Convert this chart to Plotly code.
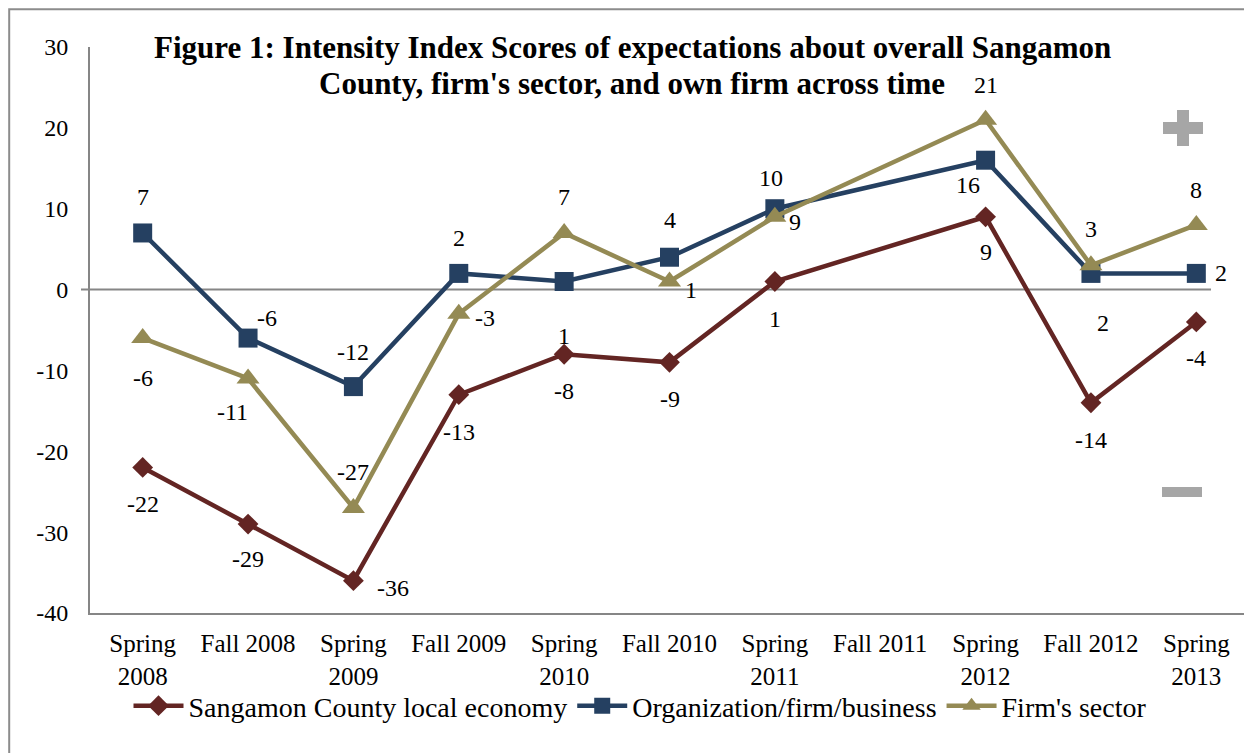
import plotly.graph_objects as go

categories = ["Spring<br>2008", "Fall 2008", "Spring<br>2009", "Fall 2009", "Spring<br>2010",
              "Fall 2010", "Spring<br>2011", "Fall 2011", "Spring<br>2012", "Fall 2012", "Spring<br>2013"]

sangamon = [-22, -29, -36, -13, -8, -9, 1, None, 9, -14, -4]
organization = [7, -6, -12, 2, 1, 4, 10, None, 16, 2, 2]
sector = [-6, -11, -27, -3, 7, 1, 9, None, 21, 3, 8]

series_names = ["Sangamon County local economy", "Organization/firm/business", "Firm's sector"]
tick_values = [-40, -30, -20, -10, 0, 10, 20, 30]
tick_labels = ["-40", "-30", "-20", "-10", "0", "10", "20", "30"]
title_lines = ["Figure 1: Intensity Index Scores of expectations about overall Sangamon",
               "County, firm's sector, and own firm across time"]

# style: label offsets in pixels (dx, dy) per point
sang_off = [(0, -37), (0, -35), (40, -7), (0, -37), (0, -37), (0, -37), (0, -38), None, (0, -35), (0, -37), (0, -36)]
org_off = [(0, 36), (19, 20), (0, 35), (0, 35), (0, -55), (0, 37), (-4, 31), None, (-18, -25), (12, -50), (25, 0)]
sec_off = [(0, -40), (-16, -33), (0, 36), (26, -4), (0, 36), (21, -9), (20, -5), None, (0, 35), (0, 36), (0, 35)]

colors = ["#632523", "#254061", "#948A54"]
symbols = ["diamond", "square", "triangle-up"]
sizes = [16, 19, 20]
FONT = "Liberation Serif"

# page body has an 8px margin; compensate so reference pixel p maps to figure pixel p-8
OFF = 8
W, H = 1252 - OFF, 753 - OFF
L, T, R = 90 - OFF, 47 - OFF, 3
B = H - (613 - OFF)
pw = W - L - R
ph = H - T - B


def px(xp):
    return (xp - OFF - L) / pw


def py(yp):
    return (H - B - (yp - OFF)) / ph


fig = go.Figure()
annotations = []
for vals, name, col, sym, sz, offs in zip([sangamon, organization, sector], series_names, colors,
                                          symbols, sizes, [sang_off, org_off, sec_off]):
    fig.add_trace(go.Scatter(
        x=categories, y=vals, name=name, mode="lines+markers", connectgaps=True,
        line=dict(color=col, width=4.5),
        marker=dict(symbol=sym, size=sz, color=col, line=dict(width=0)),
    ))
    for c, v, o in zip(categories, vals, offs):
        if v is None:
            continue
        annotations.append(dict(x=c, y=v, xref="x", yref="y", text=str(v), showarrow=False,
                                xshift=o[0], yshift=o[1],
                                font=dict(family=FONT, size=24, color="#000000")))

for line_text, ypix in zip(title_lines, [47, 83]):
    annotations.append(dict(
        x=px(632), y=py(ypix), xref="paper", yref="paper", showarrow=False,
        text="<b>" + line_text + "</b>",
        font=dict(family=FONT, size=31, color="#000000"), xanchor="center", yanchor="middle"))

shapes = [
    # outer frame
    dict(type="rect", xref="paper", yref="paper", x0=px(9.2), x1=px(1262), y0=py(765), y1=py(9.2),
         line=dict(color="#8C8C8C", width=2), layer="below"),
    # zero line
    dict(type="line", xref="paper", yref="y", x0=px(81), x1=px(1211), y0=0, y1=0,
         line=dict(color="#868686", width=2), layer="below"),
    # plus sign
    dict(type="rect", xref="paper", yref="paper", x0=px(1163), x1=px(1203), y0=py(134), y1=py(122),
         fillcolor="#A6A6A6", line=dict(width=0)),
    dict(type="rect", xref="paper", yref="paper", x0=px(1177), x1=px(1189), y0=py(146), y1=py(110),
         fillcolor="#A6A6A6", line=dict(width=0)),
    # minus sign
    dict(type="rect", xref="paper", yref="paper", x0=px(1162), x1=px(1202), y0=py(497), y1=py(487),
         fillcolor="#A6A6A6", line=dict(width=0)),
]

fig.update_layout(
    width=W, height=H,
    margin=dict(l=L, r=R, t=T, b=B),
    paper_bgcolor="white", plot_bgcolor="white",
    font=dict(family=FONT, size=24, color="#000000"),
    showlegend=True,
    legend=dict(orientation="h", x=px(640), xanchor="center", y=py(706), yanchor="middle",
                font=dict(family=FONT, size=28), itemwidth=50, bgcolor="rgba(0,0,0,0)"),
    annotations=annotations,
    shapes=shapes,
)
fig.update_xaxes(type="category", range=[-0.5, 10.5], showgrid=False, zeroline=False,
                 showline=True, linecolor="#868686", linewidth=2, ticks="",
                 tickfont=dict(family=FONT, size=25), ticklabelstandoff=7)
fig.update_yaxes(range=[-40, 30], tickvals=tick_values, ticktext=tick_labels, showgrid=False,
                 zeroline=False, showline=True, linecolor="#868686", linewidth=2, ticks="",
                 tickfont=dict(family=FONT, size=24), ticklabelstandoff=15)

fig.write_html("out.html")
